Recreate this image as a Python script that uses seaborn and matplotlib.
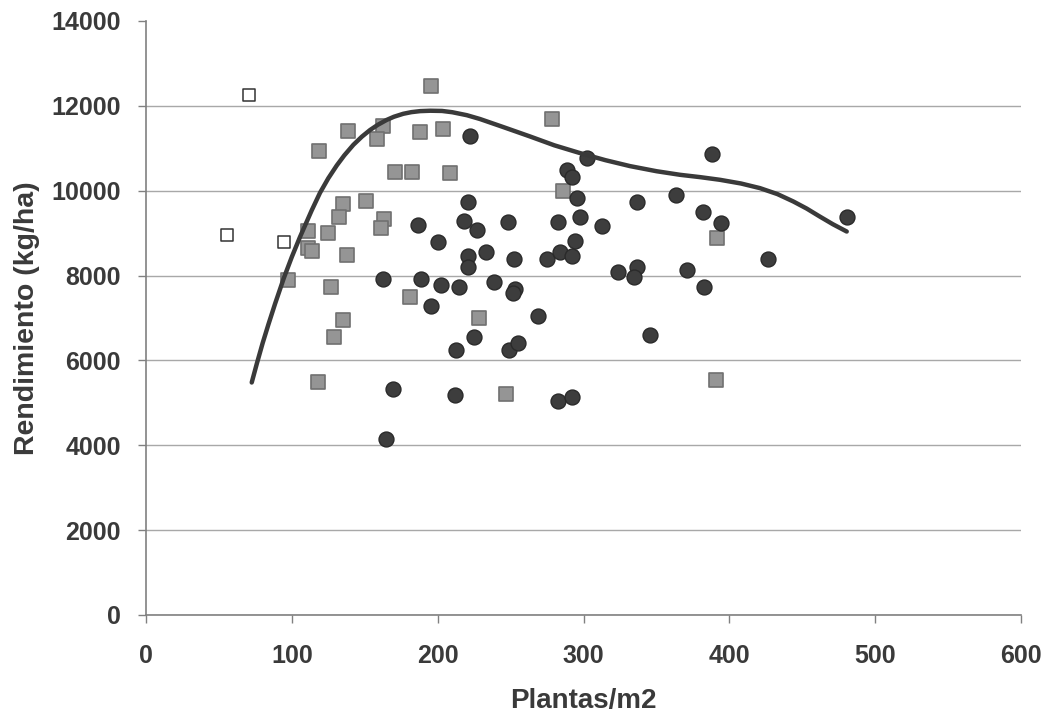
import numpy as np
import pandas as pd
import matplotlib
matplotlib.use("Agg")
import matplotlib.pyplot as plt
import seaborn as sns

# Plant density (plants/m2) and grain yield (kg/ha) by group
open_x = [70.8, 55.3, 94.9]
open_y = [12262, 8960, 8795]

gray_x = [195.2, 138.7, 162.3, 158.6, 187.9, 203.5, 118.6, 170.7, 182.2, 208.5,
          278.2, 286.2, 150.9, 134.9, 132.6, 163.4, 160.9, 111.3, 124.6, 111.3,
          113.6, 138.1, 97.2, 126.9, 181.0, 228.3, 135.3, 129.1, 117.7, 246.9,
          391.8, 390.9]
gray_y = [12457, 11397, 11531, 11224, 11373, 11465, 10941, 10430, 10430, 10415,
          11688, 9998, 9762, 9684, 9369, 9331, 9119, 9055, 9015, 8646,
          8590, 8489, 7899, 7742, 7506, 6995, 6956, 6563, 5494, 5204,
          8883, 5541]

dark_x = [186.3, 200.0, 162.3, 188.6, 202.0, 195.2, 169.4, 164.6, 222.2, 302.2,
          288.9, 291.9, 295.8, 336.5, 363.6, 220.6, 218.3, 226.8, 248.5, 282.8,
          297.6, 312.5, 220.6, 220.6, 232.9, 252.6, 275.2, 283.9, 291.9, 294.2,
          323.8, 336.9, 334.6, 214.8, 238.8, 253.0, 251.9, 269.0, 225.1, 212.6,
          249.1, 254.9, 345.6, 211.9, 282.7, 292.3, 388.4, 382.1, 394.1, 480.5,
          426.3, 370.7, 382.6]
dark_y = [9181, 8803, 7915, 7915, 7781, 7286, 5322, 4143, 11295, 10769,
          10477, 10320, 9826, 9723, 9890, 9723, 9291, 9063, 9252, 9252,
          9369, 9158, 8450, 8213, 8567, 8387, 8387, 8553, 8473, 8819,
          8088, 8213, 7963, 7727, 7860, 7680, 7586, 7050, 6563, 6249,
          6249, 6407, 6602, 5188, 5046, 5140, 10863, 9496, 9236, 9392,
          8387, 8135, 7727]

# Trend curve
trend_x = [72.5, 76.0, 80.0, 84.0, 88.5, 94.6, 100.0, 105.6, 113.6, 119.3,
           125.0, 130.8, 136.0, 142.2, 148.0, 153.6, 159.0, 165.0, 170.0,
           176.4, 182.0, 188.0, 195.0, 203.0, 210.0, 220.0, 229.0, 245.0,
           263.3, 280.0, 297.6, 315.0, 331.9, 350.0, 366.2, 380.0, 393.6,
           408.0, 421.0, 433.0, 443.9, 453.0, 462.0, 471.0, 480.5]
trend_y = [5480, 5925, 6410, 6855, 7335, 7950, 8440, 8910, 9535, 9950,
           10293, 10595, 10834, 11082, 11273, 11430, 11554, 11668, 11743,
           11813, 11852, 11876, 11885, 11880, 11850, 11780, 11690, 11500,
           11279, 11070, 10887, 10720, 10580, 10460, 10375, 10320, 10257,
           10170, 10061, 9920, 9746, 9580, 9392, 9210, 9038]

x_ticks = [0, 100, 200, 300, 400, 500, 600]
y_ticks = [0, 2000, 4000, 6000, 8000, 10000, 12000, 14000]

df = pd.DataFrame({
    "x": open_x + gray_x + dark_x,
    "y": open_y + gray_y + dark_y,
    "grupo": ["a"] * len(open_x) + ["b"] * len(gray_x) + ["c"] * len(dark_x),
})
trend = pd.DataFrame({"x": trend_x, "y": trend_y})

sns.set_style("white")
plt.rcParams["font.family"] = ["Liberation Sans", "DejaVu Sans"]

fig = plt.figure(figsize=(10.47, 7.13), dpi=100)
ax = fig.add_axes([146 / 1047, 1 - 615 / 713, 875 / 1047, 594 / 713])

txt = "#3a3a3a"
axis_c = "#808080"

ax.set_xlim(0, 600)
ax.set_ylim(0, 14000)
ax.set_xticks(x_ticks)
ax.set_yticks(y_ticks)
ax.yaxis.grid(True, color="#a8a8a8", linewidth=1.0)
ax.set_axisbelow(True)
for gl in ax.yaxis.get_gridlines()[-1:]:
    gl.set_visible(False)

# grey squares
sns.scatterplot(data=df[df.grupo == "b"], x="x", y="y", ax=ax, marker="s",
                s=95, color="#959595", edgecolor="#707070", linewidth=1.2,
                legend=False, zorder=3)
# open squares
sns.scatterplot(data=df[df.grupo == "a"], x="x", y="y", ax=ax, marker="s",
                s=85, facecolor="white", edgecolor="#333333", linewidth=1.1,
                legend=False, zorder=3)
# dark circles
sns.scatterplot(data=df[df.grupo == "c"], x="x", y="y", ax=ax, marker="o",
                s=115, color="#3d3d3d", edgecolor="#2a2a2a", linewidth=1.0,
                legend=False, zorder=3)

sns.lineplot(data=trend, x="x", y="y", ax=ax, sort=False, color="#3a3a3a",
             linewidth=3.2, zorder=4, estimator=None, solid_capstyle="round",
             solid_joinstyle="round")

for side in ["top", "right"]:
    ax.spines[side].set_visible(False)
for side in ["left", "bottom"]:
    ax.spines[side].set_color(axis_c)
    ax.spines[side].set_linewidth(1.2)

ax.tick_params(axis="both", which="both", direction="out", length=6,
               width=1.0, color=axis_c, left=True, bottom=True)
ax.tick_params(axis="y", pad=12)
ax.tick_params(axis="x", pad=15)

ax.set_yticklabels([str(v) for v in y_ticks], fontsize=18, fontweight="bold",
                   color=txt)
ax.set_xticklabels([str(v) for v in x_ticks], fontsize=18, fontweight="bold",
                   color=txt)

ax.set_xlabel("Plantas/m2", fontsize=20, fontweight="bold", color=txt,
              labelpad=14)
ax.set_ylabel("Rendimiento (kg/ha)", fontsize=20.5, fontweight="bold",
              color=txt, labelpad=8)

fig.savefig("out.png", dpi=100, facecolor="white")
